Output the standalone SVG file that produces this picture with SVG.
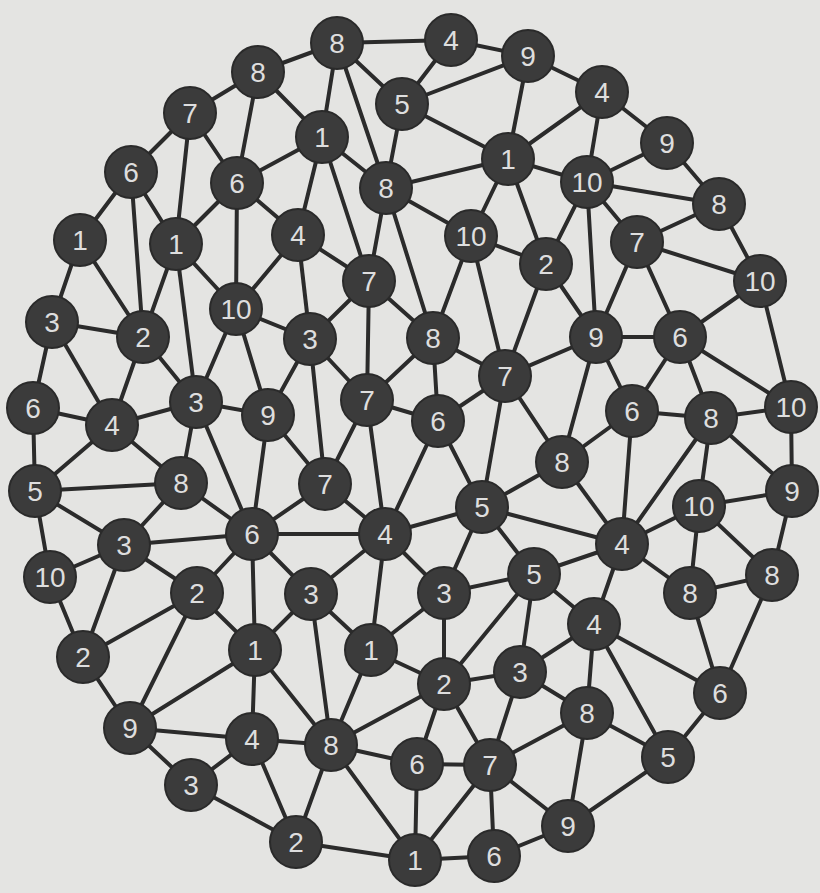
<svg xmlns="http://www.w3.org/2000/svg" width="820" height="893" viewBox="0 0 820 893">
<style>
.bg{fill:#e4e4e2}
.edges line{stroke:#2b2b2b;stroke-width:4;stroke-linecap:round}
.node circle{fill:#3b3b3b;stroke:#2a2a2a;stroke-width:2}
.node text{font-family:"Liberation Sans",Arial,sans-serif;font-size:28px;fill:#dedede;text-anchor:middle}
</style>
<rect class="bg" x="0" y="0" width="820" height="893"/>
<g id="connectors" class="edges">
<line x1="337" y1="43" x2="258" y2="72"/>
<line x1="337" y1="43" x2="451" y2="40"/>
<line x1="337" y1="43" x2="402" y2="104"/>
<line x1="337" y1="43" x2="322" y2="137"/>
<line x1="337" y1="43" x2="386" y2="188"/>
<line x1="451" y1="40" x2="528" y2="56"/>
<line x1="451" y1="40" x2="402" y2="104"/>
<line x1="528" y1="56" x2="402" y2="104"/>
<line x1="528" y1="56" x2="602" y2="92"/>
<line x1="528" y1="56" x2="508" y2="159"/>
<line x1="258" y1="72" x2="190" y2="113"/>
<line x1="258" y1="72" x2="237" y2="183"/>
<line x1="258" y1="72" x2="322" y2="137"/>
<line x1="402" y1="104" x2="386" y2="188"/>
<line x1="402" y1="104" x2="508" y2="159"/>
<line x1="602" y1="92" x2="508" y2="159"/>
<line x1="602" y1="92" x2="587" y2="182"/>
<line x1="602" y1="92" x2="667" y2="143"/>
<line x1="190" y1="113" x2="131" y2="172"/>
<line x1="190" y1="113" x2="237" y2="183"/>
<line x1="190" y1="113" x2="176" y2="244"/>
<line x1="322" y1="137" x2="237" y2="183"/>
<line x1="322" y1="137" x2="386" y2="188"/>
<line x1="322" y1="137" x2="298" y2="235"/>
<line x1="322" y1="137" x2="369" y2="281"/>
<line x1="667" y1="143" x2="587" y2="182"/>
<line x1="667" y1="143" x2="719" y2="204"/>
<line x1="508" y1="159" x2="386" y2="188"/>
<line x1="508" y1="159" x2="587" y2="182"/>
<line x1="508" y1="159" x2="471" y2="236"/>
<line x1="508" y1="159" x2="546" y2="264"/>
<line x1="131" y1="172" x2="80" y2="240"/>
<line x1="131" y1="172" x2="143" y2="337"/>
<line x1="131" y1="172" x2="176" y2="244"/>
<line x1="237" y1="183" x2="176" y2="244"/>
<line x1="237" y1="183" x2="236" y2="309"/>
<line x1="237" y1="183" x2="298" y2="235"/>
<line x1="386" y1="188" x2="369" y2="281"/>
<line x1="386" y1="188" x2="433" y2="338"/>
<line x1="386" y1="188" x2="471" y2="236"/>
<line x1="587" y1="182" x2="719" y2="204"/>
<line x1="587" y1="182" x2="546" y2="264"/>
<line x1="587" y1="182" x2="596" y2="337"/>
<line x1="587" y1="182" x2="637" y2="242"/>
<line x1="719" y1="204" x2="637" y2="242"/>
<line x1="719" y1="204" x2="760" y2="281"/>
<line x1="80" y1="240" x2="52" y2="322"/>
<line x1="80" y1="240" x2="143" y2="337"/>
<line x1="176" y1="244" x2="143" y2="337"/>
<line x1="176" y1="244" x2="236" y2="309"/>
<line x1="176" y1="244" x2="196" y2="402"/>
<line x1="298" y1="235" x2="236" y2="309"/>
<line x1="298" y1="235" x2="369" y2="281"/>
<line x1="298" y1="235" x2="310" y2="339"/>
<line x1="471" y1="236" x2="433" y2="338"/>
<line x1="471" y1="236" x2="505" y2="376"/>
<line x1="471" y1="236" x2="546" y2="264"/>
<line x1="637" y1="242" x2="760" y2="281"/>
<line x1="637" y1="242" x2="596" y2="337"/>
<line x1="637" y1="242" x2="680" y2="337"/>
<line x1="546" y1="264" x2="596" y2="337"/>
<line x1="546" y1="264" x2="505" y2="376"/>
<line x1="369" y1="281" x2="310" y2="339"/>
<line x1="369" y1="281" x2="367" y2="400"/>
<line x1="369" y1="281" x2="433" y2="338"/>
<line x1="760" y1="281" x2="680" y2="337"/>
<line x1="760" y1="281" x2="791" y2="407"/>
<line x1="52" y1="322" x2="143" y2="337"/>
<line x1="52" y1="322" x2="33" y2="408"/>
<line x1="52" y1="322" x2="112" y2="425"/>
<line x1="143" y1="337" x2="112" y2="425"/>
<line x1="143" y1="337" x2="196" y2="402"/>
<line x1="236" y1="309" x2="310" y2="339"/>
<line x1="236" y1="309" x2="196" y2="402"/>
<line x1="236" y1="309" x2="268" y2="415"/>
<line x1="310" y1="339" x2="367" y2="400"/>
<line x1="310" y1="339" x2="268" y2="415"/>
<line x1="310" y1="339" x2="325" y2="484"/>
<line x1="433" y1="338" x2="367" y2="400"/>
<line x1="433" y1="338" x2="438" y2="421"/>
<line x1="433" y1="338" x2="505" y2="376"/>
<line x1="596" y1="337" x2="680" y2="337"/>
<line x1="596" y1="337" x2="632" y2="411"/>
<line x1="596" y1="337" x2="562" y2="462"/>
<line x1="596" y1="337" x2="505" y2="376"/>
<line x1="680" y1="337" x2="632" y2="411"/>
<line x1="680" y1="337" x2="711" y2="418"/>
<line x1="680" y1="337" x2="791" y2="407"/>
<line x1="505" y1="376" x2="438" y2="421"/>
<line x1="505" y1="376" x2="482" y2="507"/>
<line x1="505" y1="376" x2="562" y2="462"/>
<line x1="33" y1="408" x2="112" y2="425"/>
<line x1="33" y1="408" x2="35" y2="491"/>
<line x1="112" y1="425" x2="196" y2="402"/>
<line x1="112" y1="425" x2="35" y2="491"/>
<line x1="112" y1="425" x2="181" y2="483"/>
<line x1="196" y1="402" x2="268" y2="415"/>
<line x1="196" y1="402" x2="181" y2="483"/>
<line x1="196" y1="402" x2="252" y2="534"/>
<line x1="268" y1="415" x2="252" y2="534"/>
<line x1="268" y1="415" x2="325" y2="484"/>
<line x1="367" y1="400" x2="438" y2="421"/>
<line x1="367" y1="400" x2="325" y2="484"/>
<line x1="367" y1="400" x2="385" y2="534"/>
<line x1="438" y1="421" x2="385" y2="534"/>
<line x1="438" y1="421" x2="482" y2="507"/>
<line x1="632" y1="411" x2="711" y2="418"/>
<line x1="632" y1="411" x2="562" y2="462"/>
<line x1="632" y1="411" x2="622" y2="544"/>
<line x1="711" y1="418" x2="791" y2="407"/>
<line x1="711" y1="418" x2="622" y2="544"/>
<line x1="711" y1="418" x2="699" y2="506"/>
<line x1="711" y1="418" x2="792" y2="491"/>
<line x1="791" y1="407" x2="792" y2="491"/>
<line x1="562" y1="462" x2="482" y2="507"/>
<line x1="562" y1="462" x2="622" y2="544"/>
<line x1="35" y1="491" x2="181" y2="483"/>
<line x1="35" y1="491" x2="124" y2="545"/>
<line x1="35" y1="491" x2="50" y2="577"/>
<line x1="181" y1="483" x2="124" y2="545"/>
<line x1="181" y1="483" x2="252" y2="534"/>
<line x1="325" y1="484" x2="385" y2="534"/>
<line x1="325" y1="484" x2="252" y2="534"/>
<line x1="482" y1="507" x2="385" y2="534"/>
<line x1="482" y1="507" x2="622" y2="544"/>
<line x1="482" y1="507" x2="444" y2="593"/>
<line x1="482" y1="507" x2="534" y2="574"/>
<line x1="699" y1="506" x2="622" y2="544"/>
<line x1="699" y1="506" x2="792" y2="491"/>
<line x1="699" y1="506" x2="772" y2="575"/>
<line x1="699" y1="506" x2="690" y2="593"/>
<line x1="792" y1="491" x2="772" y2="575"/>
<line x1="124" y1="545" x2="252" y2="534"/>
<line x1="124" y1="545" x2="50" y2="577"/>
<line x1="124" y1="545" x2="197" y2="593"/>
<line x1="124" y1="545" x2="83" y2="657"/>
<line x1="252" y1="534" x2="385" y2="534"/>
<line x1="252" y1="534" x2="197" y2="593"/>
<line x1="252" y1="534" x2="255" y2="650"/>
<line x1="252" y1="534" x2="311" y2="594"/>
<line x1="385" y1="534" x2="311" y2="594"/>
<line x1="385" y1="534" x2="371" y2="650"/>
<line x1="385" y1="534" x2="444" y2="593"/>
<line x1="622" y1="544" x2="534" y2="574"/>
<line x1="622" y1="544" x2="594" y2="624"/>
<line x1="622" y1="544" x2="690" y2="593"/>
<line x1="50" y1="577" x2="83" y2="657"/>
<line x1="197" y1="593" x2="83" y2="657"/>
<line x1="197" y1="593" x2="255" y2="650"/>
<line x1="197" y1="593" x2="130" y2="728"/>
<line x1="311" y1="594" x2="371" y2="650"/>
<line x1="311" y1="594" x2="331" y2="745"/>
<line x1="311" y1="594" x2="255" y2="650"/>
<line x1="534" y1="574" x2="444" y2="593"/>
<line x1="534" y1="574" x2="594" y2="624"/>
<line x1="534" y1="574" x2="520" y2="672"/>
<line x1="534" y1="574" x2="444" y2="684"/>
<line x1="444" y1="593" x2="371" y2="650"/>
<line x1="444" y1="593" x2="444" y2="684"/>
<line x1="690" y1="593" x2="772" y2="575"/>
<line x1="690" y1="593" x2="720" y2="693"/>
<line x1="772" y1="575" x2="720" y2="693"/>
<line x1="594" y1="624" x2="520" y2="672"/>
<line x1="594" y1="624" x2="587" y2="713"/>
<line x1="594" y1="624" x2="668" y2="757"/>
<line x1="594" y1="624" x2="720" y2="693"/>
<line x1="83" y1="657" x2="130" y2="728"/>
<line x1="255" y1="650" x2="130" y2="728"/>
<line x1="255" y1="650" x2="252" y2="739"/>
<line x1="255" y1="650" x2="331" y2="745"/>
<line x1="371" y1="650" x2="444" y2="684"/>
<line x1="371" y1="650" x2="331" y2="745"/>
<line x1="520" y1="672" x2="444" y2="684"/>
<line x1="520" y1="672" x2="490" y2="765"/>
<line x1="520" y1="672" x2="587" y2="713"/>
<line x1="444" y1="684" x2="331" y2="745"/>
<line x1="444" y1="684" x2="417" y2="764"/>
<line x1="444" y1="684" x2="490" y2="765"/>
<line x1="720" y1="693" x2="668" y2="757"/>
<line x1="130" y1="728" x2="252" y2="739"/>
<line x1="130" y1="728" x2="191" y2="785"/>
<line x1="252" y1="739" x2="191" y2="785"/>
<line x1="252" y1="739" x2="331" y2="745"/>
<line x1="252" y1="739" x2="296" y2="842"/>
<line x1="331" y1="745" x2="417" y2="764"/>
<line x1="331" y1="745" x2="296" y2="842"/>
<line x1="331" y1="745" x2="415" y2="860"/>
<line x1="587" y1="713" x2="668" y2="757"/>
<line x1="587" y1="713" x2="568" y2="826"/>
<line x1="587" y1="713" x2="490" y2="765"/>
<line x1="417" y1="764" x2="490" y2="765"/>
<line x1="417" y1="764" x2="415" y2="860"/>
<line x1="490" y1="765" x2="415" y2="860"/>
<line x1="490" y1="765" x2="494" y2="856"/>
<line x1="490" y1="765" x2="568" y2="826"/>
<line x1="668" y1="757" x2="568" y2="826"/>
<line x1="191" y1="785" x2="296" y2="842"/>
<line x1="568" y1="826" x2="494" y2="856"/>
<line x1="296" y1="842" x2="415" y2="860"/>
<line x1="415" y1="860" x2="494" y2="856"/>
</g>
<g id="nA" class="node"><circle cx="337" cy="43" r="26"/><text x="337" y="53">8</text></g>
<g id="nB" class="node"><circle cx="451" cy="40" r="26"/><text x="451" y="50">4</text></g>
<g id="nC" class="node"><circle cx="528" cy="56" r="26"/><text x="528" y="66">9</text></g>
<g id="nD" class="node"><circle cx="258" cy="72" r="26"/><text x="258" y="82">8</text></g>
<g id="nE" class="node"><circle cx="402" cy="104" r="26"/><text x="402" y="114">5</text></g>
<g id="nF" class="node"><circle cx="602" cy="92" r="26"/><text x="602" y="102">4</text></g>
<g id="nG" class="node"><circle cx="190" cy="113" r="26"/><text x="190" y="123">7</text></g>
<g id="nH" class="node"><circle cx="322" cy="137" r="26"/><text x="322" y="147">1</text></g>
<g id="nI" class="node"><circle cx="667" cy="143" r="26"/><text x="667" y="153">9</text></g>
<g id="nJ" class="node"><circle cx="508" cy="159" r="26"/><text x="508" y="169">1</text></g>
<g id="nK" class="node"><circle cx="131" cy="172" r="26"/><text x="131" y="182">6</text></g>
<g id="nL" class="node"><circle cx="237" cy="183" r="26"/><text x="237" y="193">6</text></g>
<g id="nM" class="node"><circle cx="386" cy="188" r="26"/><text x="386" y="198">8</text></g>
<g id="nN" class="node"><circle cx="587" cy="182" r="26"/><text x="587" y="192">10</text></g>
<g id="nO" class="node"><circle cx="719" cy="204" r="26"/><text x="719" y="214">8</text></g>
<g id="nP" class="node"><circle cx="80" cy="240" r="26"/><text x="80" y="250">1</text></g>
<g id="nQ" class="node"><circle cx="176" cy="244" r="26"/><text x="176" y="254">1</text></g>
<g id="nR" class="node"><circle cx="298" cy="235" r="26"/><text x="298" y="245">4</text></g>
<g id="nS" class="node"><circle cx="471" cy="236" r="26"/><text x="471" y="246">10</text></g>
<g id="nT" class="node"><circle cx="637" cy="242" r="26"/><text x="637" y="252">7</text></g>
<g id="nU" class="node"><circle cx="546" cy="264" r="26"/><text x="546" y="274">2</text></g>
<g id="nV" class="node"><circle cx="369" cy="281" r="26"/><text x="369" y="291">7</text></g>
<g id="nW" class="node"><circle cx="760" cy="281" r="26"/><text x="760" y="291">10</text></g>
<g id="nX" class="node"><circle cx="52" cy="322" r="26"/><text x="52" y="332">3</text></g>
<g id="nY" class="node"><circle cx="143" cy="337" r="26"/><text x="143" y="347">2</text></g>
<g id="nZ" class="node"><circle cx="236" cy="309" r="26"/><text x="236" y="319">10</text></g>
<g id="nAA" class="node"><circle cx="310" cy="339" r="26"/><text x="310" y="349">3</text></g>
<g id="nAB" class="node"><circle cx="433" cy="338" r="26"/><text x="433" y="348">8</text></g>
<g id="nAC" class="node"><circle cx="596" cy="337" r="26"/><text x="596" y="347">9</text></g>
<g id="nAD" class="node"><circle cx="680" cy="337" r="26"/><text x="680" y="347">6</text></g>
<g id="nAE" class="node"><circle cx="505" cy="376" r="26"/><text x="505" y="386">7</text></g>
<g id="nAF" class="node"><circle cx="33" cy="408" r="26"/><text x="33" y="418">6</text></g>
<g id="nAG" class="node"><circle cx="112" cy="425" r="26"/><text x="112" y="435">4</text></g>
<g id="nAH" class="node"><circle cx="196" cy="402" r="26"/><text x="196" y="412">3</text></g>
<g id="nAI" class="node"><circle cx="268" cy="415" r="26"/><text x="268" y="425">9</text></g>
<g id="nAJ" class="node"><circle cx="367" cy="400" r="26"/><text x="367" y="410">7</text></g>
<g id="nAK" class="node"><circle cx="438" cy="421" r="26"/><text x="438" y="431">6</text></g>
<g id="nAL" class="node"><circle cx="632" cy="411" r="26"/><text x="632" y="421">6</text></g>
<g id="nAM" class="node"><circle cx="711" cy="418" r="26"/><text x="711" y="428">8</text></g>
<g id="nAN" class="node"><circle cx="791" cy="407" r="26"/><text x="791" y="417">10</text></g>
<g id="nAO" class="node"><circle cx="562" cy="462" r="26"/><text x="562" y="472">8</text></g>
<g id="nAP" class="node"><circle cx="35" cy="491" r="26"/><text x="35" y="501">5</text></g>
<g id="nAQ" class="node"><circle cx="181" cy="483" r="26"/><text x="181" y="493">8</text></g>
<g id="nAR" class="node"><circle cx="325" cy="484" r="26"/><text x="325" y="494">7</text></g>
<g id="nAS" class="node"><circle cx="482" cy="507" r="26"/><text x="482" y="517">5</text></g>
<g id="nAT" class="node"><circle cx="699" cy="506" r="26"/><text x="699" y="516">10</text></g>
<g id="nAU" class="node"><circle cx="792" cy="491" r="26"/><text x="792" y="501">9</text></g>
<g id="nAV" class="node"><circle cx="124" cy="545" r="26"/><text x="124" y="555">3</text></g>
<g id="nAW" class="node"><circle cx="252" cy="534" r="26"/><text x="252" y="544">6</text></g>
<g id="nAX" class="node"><circle cx="385" cy="534" r="26"/><text x="385" y="544">4</text></g>
<g id="nAY" class="node"><circle cx="622" cy="544" r="26"/><text x="622" y="554">4</text></g>
<g id="nAZ" class="node"><circle cx="50" cy="577" r="26"/><text x="50" y="587">10</text></g>
<g id="nBA" class="node"><circle cx="197" cy="593" r="26"/><text x="197" y="603">2</text></g>
<g id="nBB" class="node"><circle cx="311" cy="594" r="26"/><text x="311" y="604">3</text></g>
<g id="nBC" class="node"><circle cx="534" cy="574" r="26"/><text x="534" y="584">5</text></g>
<g id="nBD" class="node"><circle cx="444" cy="593" r="26"/><text x="444" y="603">3</text></g>
<g id="nBE" class="node"><circle cx="690" cy="593" r="26"/><text x="690" y="603">8</text></g>
<g id="nBF" class="node"><circle cx="772" cy="575" r="26"/><text x="772" y="585">8</text></g>
<g id="nBG" class="node"><circle cx="594" cy="624" r="26"/><text x="594" y="634">4</text></g>
<g id="nBH" class="node"><circle cx="83" cy="657" r="26"/><text x="83" y="667">2</text></g>
<g id="nBI" class="node"><circle cx="255" cy="650" r="26"/><text x="255" y="660">1</text></g>
<g id="nBJ" class="node"><circle cx="371" cy="650" r="26"/><text x="371" y="660">1</text></g>
<g id="nBK" class="node"><circle cx="520" cy="672" r="26"/><text x="520" y="682">3</text></g>
<g id="nBL" class="node"><circle cx="444" cy="684" r="26"/><text x="444" y="694">2</text></g>
<g id="nBM" class="node"><circle cx="720" cy="693" r="26"/><text x="720" y="703">6</text></g>
<g id="nBN" class="node"><circle cx="130" cy="728" r="26"/><text x="130" y="738">9</text></g>
<g id="nBO" class="node"><circle cx="252" cy="739" r="26"/><text x="252" y="749">4</text></g>
<g id="nBP" class="node"><circle cx="331" cy="745" r="26"/><text x="331" y="755">8</text></g>
<g id="nBQ" class="node"><circle cx="587" cy="713" r="26"/><text x="587" y="723">8</text></g>
<g id="nBR" class="node"><circle cx="417" cy="764" r="26"/><text x="417" y="774">6</text></g>
<g id="nBS" class="node"><circle cx="490" cy="765" r="26"/><text x="490" y="775">7</text></g>
<g id="nBT" class="node"><circle cx="668" cy="757" r="26"/><text x="668" y="767">5</text></g>
<g id="nBU" class="node"><circle cx="191" cy="785" r="26"/><text x="191" y="795">3</text></g>
<g id="nBV" class="node"><circle cx="568" cy="826" r="26"/><text x="568" y="836">9</text></g>
<g id="nBW" class="node"><circle cx="296" cy="842" r="26"/><text x="296" y="852">2</text></g>
<g id="nBX" class="node"><circle cx="415" cy="860" r="26"/><text x="415" y="870">1</text></g>
<g id="nBY" class="node"><circle cx="494" cy="856" r="26"/><text x="494" y="866">6</text></g>
</svg>
